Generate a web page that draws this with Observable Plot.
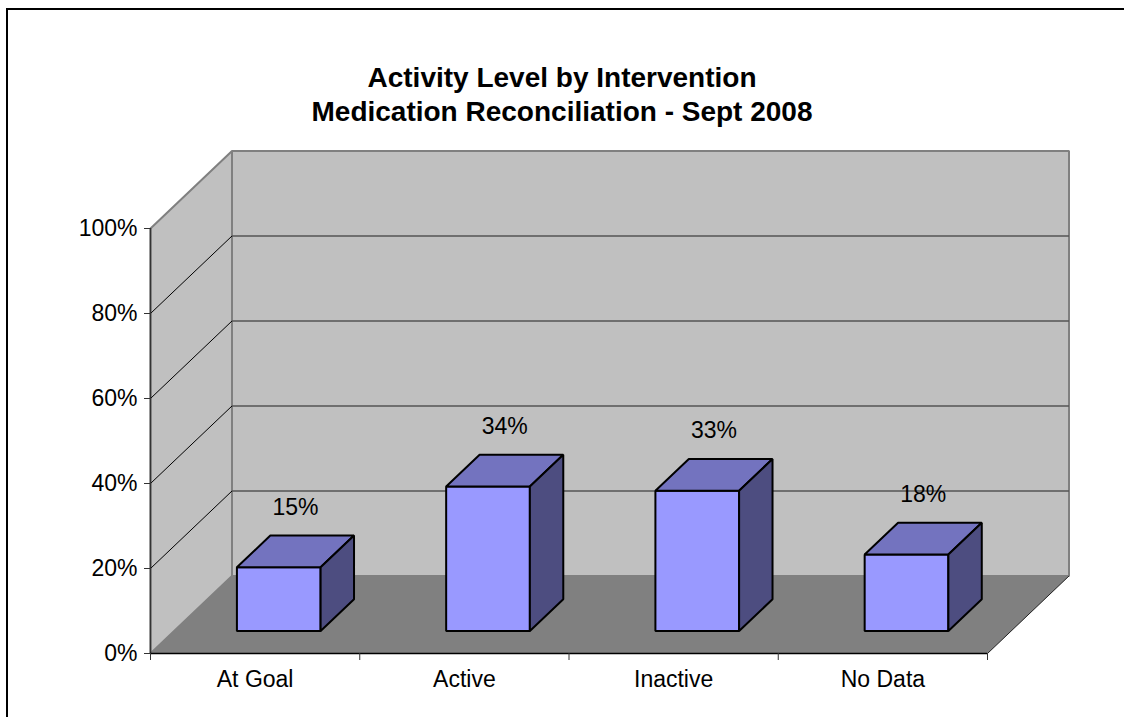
<!DOCTYPE html>
<html>
<head>
<meta charset="utf-8">
<script src="https://cdn.jsdelivr.net/npm/d3@7"></script>
<script src="https://cdn.jsdelivr.net/npm/@observablehq/plot@0.6"></script>
<style>
  html, body { margin: 0; width: 1124px; height: 717px; overflow: hidden; }
  body { background: #fff; font-family: "Liberation Sans", Arial, sans-serif; position: relative; }
  #edgeTop { position: absolute; left: 6px; top: 8px; width: 1118px; height: 2px; background: #000; }
  #edgeLeft { position: absolute; left: 6px; top: 8px; width: 2px; height: 709px; background: #000; }
  #title { position: absolute; left: 0; top: 61px; width: 1124px; text-align: center;
           font-size: 28px; font-weight: bold; line-height: 34px; color: #000; }
  #chart { position: absolute; left: 0; top: 130px; }
</style>
</head>
<body>
<div id="edgeTop"></div>
<div id="edgeLeft"></div>
<div id="title">Activity Level by Intervention<br>Medication Reconciliation - Sept 2008</div>
<div id="chart"></div>
<script>
// Share of patients in each activity level
const categories = ["At Goal", "Active", "Inactive", "No Data"];
const values = [15, 34, 33, 18];
const yTicks = [0, 20, 40, 60, 80, 100];

// Oblique 3-D projection: depth d in [0, 1] shifts a point right (band units) and up (percent units)
const DX = 0.3895;
const DY = 18.24;
const BAR_D0 = 0.29, BAR_D1 = 0.70, BAR_HALF = 0.2;
const project = (x, v, d) => ({X: x + d * DX, Y: v + d * DY});

const n = categories.length;
const poly = (id, pts) => pts.map(([x, v, d], k) => ({id, k, ...project(x, v, d)}));

// Walls and floor
const backWall = poly("back", [[0, 0, 1], [n, 0, 1], [n, 100, 1], [0, 100, 1]]);
const sideWall = poly("side", [[0, 0, 0], [0, 0, 1], [0, 100, 1], [0, 100, 0]]);
const floor = poly("floor", [[0, 0, 0], [n, 0, 0], [n, 0, 1], [0, 0, 1]]);

// Gridlines on the back wall and on the side wall
const gridLines = yTicks.filter(t => t > 0 && t < 100);
const segment = (a, b) => ({x1: a.X, y1: a.Y, x2: b.X, y2: b.Y});
const backGrid = gridLines.map(t => segment(project(0, t, 1), project(n, t, 1)));
const sideGrid = gridLines.map(t => segment(project(0, t, 0), project(0, t, 1)));
const floorEdge = [segment(project(n, 0, 0), project(n, 0, 1))];

// Bar faces
const fronts = [], tops = [], sides = [];
values.forEach((v, i) => {
  const x0 = i + 0.5 - BAR_HALF, x1 = i + 0.5 + BAR_HALF;
  fronts.push(...poly("f" + i, [[x0, 0, BAR_D0], [x1, 0, BAR_D0], [x1, v, BAR_D0], [x0, v, BAR_D0]]));
  tops.push(...poly("t" + i, [[x0, v, BAR_D0], [x1, v, BAR_D0], [x1, v, BAR_D1], [x0, v, BAR_D1]]));
  sides.push(...poly("s" + i, [[x1, 0, BAR_D0], [x1, 0, BAR_D1], [x1, v, BAR_D1], [x1, v, BAR_D0]]));
});

// Value labels sit above the middle of each bar's top face
const labels = values.map((v, i) => {
  const p = project(i + 0.5, v, (BAR_D0 + BAR_D1) / 2);
  return {X: p.X, Y: p.Y, text: v + "%"};
});

const face = (data, fill, stroke, strokeWidth) =>
  Plot.line(data, {x: "X", y: "Y", z: "id", fill, stroke, strokeWidth,
                   curve: "linear-closed", strokeLinejoin: "miter"});

const chart = Plot.plot({
  width: 1124,
  height: 587,
  marginLeft: 150,
  marginRight: 137,
  marginTop: 98,
  marginBottom: 64,
  style: {fontFamily: "'Liberation Sans', Arial, sans-serif", color: "#000", background: "transparent"},
  x: {type: "linear", domain: [0, n]},
  y: {domain: [0, 100]},
  marks: [
    face(backWall, "#c0c0c0", "#808080", 2),
    face(sideWall, "#c0c0c0", "#808080", 2),
    face(floor, "#808080", "none", 0),
    Plot.link(backGrid, {x1: "x1", y1: "y1", x2: "x2", y2: "y2", stroke: "#555", strokeWidth: 1.5}),
    Plot.link(sideGrid, {x1: "x1", y1: "y1", x2: "x2", y2: "y2", stroke: "#000", strokeWidth: 1}),
    Plot.link(floorEdge, {x1: "x1", y1: "y1", x2: "x2", y2: "y2", stroke: "#222", strokeWidth: 1}),
    face(fronts, "#9999ff", "#000", 2),
    face(tops, "#7373bf", "#000", 2),
    face(sides, "#4d4d80", "#000", 2),
    Plot.ruleX([0], {stroke: "#333", strokeWidth: 1.5}),
    Plot.ruleY([0], {stroke: "#000", strokeWidth: 1.5}),
    Plot.axisY(yTicks, {tickFormat: d => d + "%", tickSize: 6, tickPadding: 7,
                        fontSize: 23, label: null, stroke: "#333"}),
    Plot.axisX(d3.range(n + 1), {tickFormat: () => "", tickSize: 7, label: null, stroke: "#333"}),
    Plot.axisX(categories.map((c, i) => i + 0.5), {tickFormat: (d, i) => categories[i],
                        tickSize: 0, tickPadding: 17, fontSize: 23, label: null}),
    Plot.text(labels, {x: "X", y: "Y", text: "text", dy: -44, fontSize: 23, fill: "#000"})
  ]
});
document.getElementById("chart").appendChild(chart);
</script>
</body>
</html>
